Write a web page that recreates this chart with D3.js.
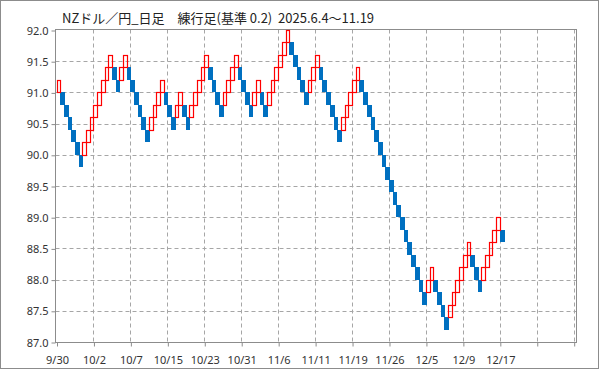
<!DOCTYPE html>
<html><head><meta charset="utf-8">
<script src="https://cdn.jsdelivr.net/npm/d3@7"></script>
<style>body{margin:0;background:#fff}svg{display:block}</style>
</head><body><svg id="c" width="599" height="369"></svg>
<script>
const title = "NZドル／円_日足　練行足(基準 0.2)  2025.6.4～11.19";
const brickSize = 0.2;
// bottom value of each brick, in order
const brickLow = [
 91.0,90.8,90.6,90.4,90.2,90.0,89.8,90.0,90.2,90.4,
 90.6,90.8,91.0,91.2,91.4,91.2,91.0,91.2,91.4,91.2,
 91.0,90.8,90.6,90.4,90.2,90.4,90.6,90.8,91.0,90.8,
 90.6,90.4,90.6,90.8,90.6,90.4,90.6,90.8,91.0,91.2,
 91.4,91.2,91.0,90.8,90.6,90.8,91.0,91.2,91.4,91.2,
 91.0,90.8,90.6,90.8,91.0,90.8,90.6,90.8,91.0,91.2,
 91.4,91.6,91.8,91.6,91.4,91.2,91.0,90.8,91.0,91.2,
 91.4,91.2,91.0,90.8,90.6,90.4,90.2,90.4,90.6,90.8,
 91.0,91.2,91.0,90.8,90.6,90.4,90.2,90.0,89.8,89.6,
 89.4,89.2,89.0,88.8,88.6,88.4,88.2,88.0,87.8,87.6,
 87.8,88.0,87.8,87.6,87.4,87.2,87.4,87.6,87.8,88.0,
 88.2,88.4,88.2,88.0,87.8,88.0,88.2,88.4,88.6,88.8,
 88.6
];
// direction of each brick: u = up (hollow red), d = down (filled blue)
const brickDir = [
 "u","d","d","d","d","d","d","u","u","u",
 "u","u","u","u","u","d","d","u","u","d",
 "d","d","d","d","d","u","u","u","u","d",
 "d","d","u","u","d","d","u","u","u","u",
 "u","d","d","d","d","u","u","u","u","d",
 "d","d","d","u","u","d","d","u","u","u",
 "u","u","u","d","d","d","d","d","u","u",
 "u","d","d","d","d","d","d","u","u","u",
 "u","u","d","d","d","d","d","d","d","d",
 "d","d","d","d","d","d","d","d","d","d",
 "u","u","d","d","d","d","u","u","u","u",
 "u","u","d","d","d","u","u","u","u","u",
 "d"
];
const xTickLabels = ["9/30","10/2","10/7","10/15","10/23","10/31","11/6","11/11","11/19","11/26","12/5","12/9","12/17","",""];
const bricksPerTick = 10;
const yTicks = [87.0,87.5,88.0,88.5,89.0,89.5,90.0,90.5,91.0,91.5,92.0];

const svg = d3.select("#c");
const W = 599, H = 369;
const L = 55.5, T = 29.5, R = 576.5, B = 342;
const nSlots = (xTickLabels.length - 1) * bricksPerTick;
const x = d3.scaleLinear().domain([0, nSlots]).range([56.5, 573.7]);
const y = d3.scaleLinear().domain([87, 92]).range([342, 30]);
const grey = "#8c8c8c", gridC = "#a6a6a6";
const font = "'Noto Sans','Open Sans',sans-serif";

svg.append("rect").attr("x",0.5).attr("y",0.5).attr("width",W-1).attr("height",H-1)
  .attr("fill","#fff").attr("stroke",grey);

// grid
const xTickVals = d3.range(0, nSlots + 1, bricksPerTick);
svg.append("g").selectAll("line").data(yTicks.slice(1, -1)).join("line")
  .attr("x1", L).attr("x2", R).attr("y1", d => Math.round(y(d)) + 0.5).attr("y2", d => Math.round(y(d)) + 0.5)
  .attr("stroke", gridC).attr("stroke-dasharray", "4,3");
svg.append("g").selectAll("line").data(xTickVals.slice(1)).join("line")
  .attr("x1", d => Math.round(x(d)) + 0.5).attr("x2", d => Math.round(x(d)) + 0.5)
  .attr("y1", T).attr("y2", B)
  .attr("stroke", gridC).attr("stroke-dasharray", "4,3");

// frame
svg.append("rect").attr("x", L).attr("y", T).attr("width", R - L).attr("height", B + 0.5 - T)
  .attr("fill", "none").attr("stroke", grey);

// y axis
const yAxis = d3.axisLeft(y).tickValues(yTicks).tickFormat(d3.format(".1f")).tickSize(4).tickPadding(3);
const gy = svg.append("g").attr("transform", `translate(${L},0.5)`).call(yAxis);
gy.select(".domain").remove();
gy.selectAll(".tick line").attr("stroke", grey);
gy.selectAll(".tick text").attr("fill", "#333").style("font", `11px ${font}`);

// x axis
const xAxis = d3.axisBottom(x).tickValues(xTickVals).tickFormat((d, i) => xTickLabels[i]).tickSize(4).tickPadding(10);
const gx = svg.append("g").attr("transform", `translate(0.5,${B + 0.5})`).call(xAxis);
gx.select(".domain").remove();
gx.selectAll(".tick line").attr("stroke", grey);
gx.selectAll(".tick text").attr("fill", "#333").style("font", `11px ${font}`);

// bricks
const bricks = brickLow.map((v, i) => ({i, low: v, dir: brickDir[i]}));
const gb = svg.append("g");
gb.selectAll("rect.dn").data(bricks.filter(d => d.dir === "d")).join("rect").attr("class","dn")
  .attr("x", d => Math.round(x(d.i)))
  .attr("width", d => Math.round(x(d.i + 1)) - Math.round(x(d.i)) + 1)
  .attr("y", d => Math.round(y(d.low + brickSize)))
  .attr("height", d => Math.round(y(d.low)) - Math.round(y(d.low + brickSize)))
  .attr("fill", "#0070c0");
gb.selectAll("rect.up").data(bricks.filter(d => d.dir === "u")).join("rect").attr("class","up")
  .attr("x", d => Math.round(x(d.i)) + 0.5)
  .attr("width", d => Math.round(x(d.i + 1)) - Math.round(x(d.i)))
  .attr("y", d => Math.round(y(d.low + brickSize)) + 0.5)
  .attr("height", d => Math.round(y(d.low)) - Math.round(y(d.low + brickSize)))
  .attr("fill", "none").attr("stroke", "#ff0000").attr("stroke-width", 1.2);

// title
svg.append("text").attr("x", 62).attr("y", 22.5).text(title)
  .style("white-space", "pre")
  .attr("fill", "#222").style("font", "13px 'Noto Sans CJK JP', sans-serif");
</script>
</body></html>
